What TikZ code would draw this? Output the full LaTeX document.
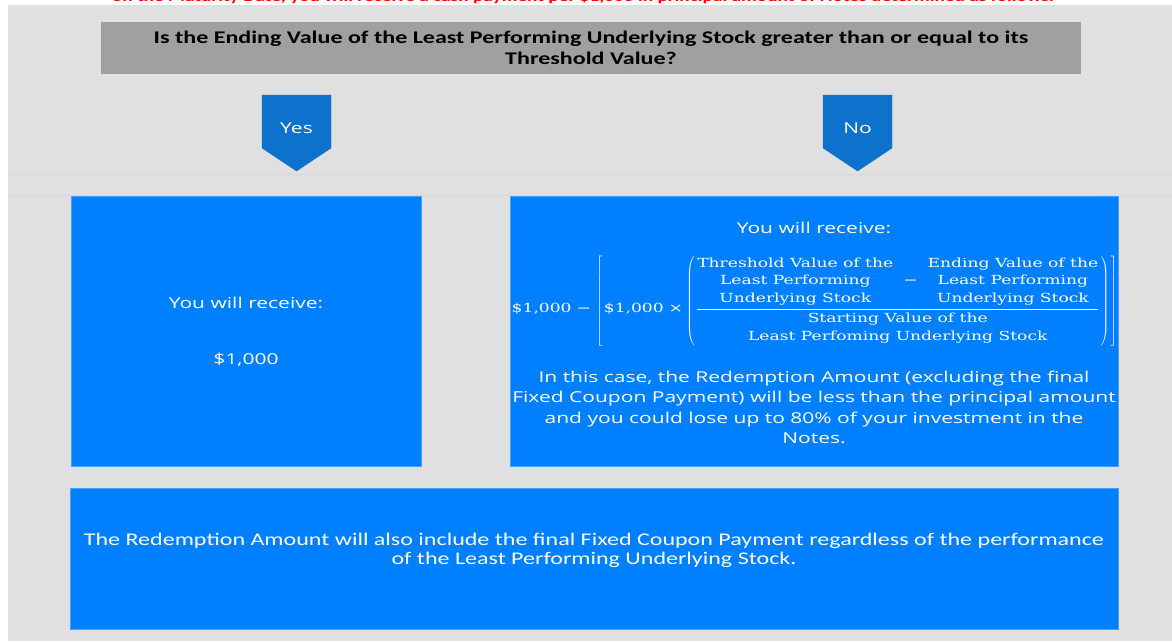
\documentclass[tikz,border=0pt]{standalone}
\usepackage{fontspec}
\newfontfamily\headfont[FakeStretch=1.35]{Carlito}
\newfontfamily\boxfont[FakeStretch=1.4]{Open Sans}
\newfontfamily\formfont[FakeStretch=1.37]{DejaVu Serif}

\definecolor{panelgray}{RGB}{224,224,224}
\definecolor{panelline}{RGB}{216,216,216}
\definecolor{questiongray}{RGB}{160,160,160}
\definecolor{arrowblue}{RGB}{12,114,204}
\definecolor{boxblue}{RGB}{0,128,255}
\definecolor{boxedge}{RGB}{70,160,255}
\definecolor{titlered}{RGB}{255,0,0}

\tikzset{
  bluebox/.style={fill=boxblue, draw=boxedge, line width=0.8pt},
  boxtext/.style={text=white, font=\boxfont\fontsize{15}{20.3}\selectfont, align=center},
  headtext/.style={font=\headfont\bfseries\fontsize{17.8}{21}\selectfont, align=center},
  pentarrow/.style={fill=arrowblue, draw=arrowblue}
}

\newcommand{\stocklines}[1]{\begin{tabular}{@{}c@{}}#1\\ Least Performing\\ Underlying Stock\end{tabular}}
\newcommand{\fminus}{\mbox{\char"2212}}
\newcommand{\ftimes}{\mbox{\char"00D7}}
% delimiter of fixed size, raised a little above the fraction bar
\newcommand{\tallopen}[1]{\raisebox{7.5pt}{$\delimitershortfall=0pt\delimiterfactor=1000\left#1\vrule height 46.5pt depth 40.5pt width 0pt\right.$}}
\newcommand{\tallclose}[1]{\raisebox{7.5pt}{$\delimitershortfall=0pt\delimiterfactor=1000\left.\vrule height 46.5pt depth 40.5pt width 0pt\right#1$}}

\begin{document}
\begin{tikzpicture}[x=1pt, y=-1pt]
\useasboundingbox (0,0) rectangle (1172,641);

% BACKGROUND
\fill[panelgray] (8,5) rectangle (1172,641);
\draw[panelline, line width=0.8pt] (8,174) -- (1172,174);
\draw[panelline, line width=0.8pt] (8,195) -- (1172,195);
\node[headtext, text=titlered, font=\headfont\bfseries\fontsize{14.3}{18}\selectfont, anchor=base] (title) at (583,1.5)
  {on the Maturity Date, you will receive a cash payment per \$1,000 in principal amount of Notes determined as follows:};

% QUESTION
\fill[questiongray] (101,22) rectangle (1081,74);
\node[headtext] (question) at (591,48)
  {Is the Ending Value of the Least Performing Underlying Stock greater than or equal to its\\ Threshold Value?};

% YES / NO ARROWS
\draw[pentarrow] (262,95) -- (331,95) -- (331,148) -- (296.5,171) -- (262,148) -- cycle;
\node[boxtext] (yes) at (296.5,128) {Yes};
\draw[pentarrow] (823,95) -- (892,95) -- (892,148) -- (857.5,171) -- (823,148) -- cycle;
\node[boxtext] (no) at (857.5,128) {No};

% LEFT BOX
\draw[bluebox] (71,196) rectangle (421,466);
\node[boxtext] (yesreceive) at (246,303) {You will receive:};
\node[boxtext] (yesamount) at (246,360) {\$1,000};

% RIGHT BOX
\draw[bluebox] (510,196) rectangle (1118,466);
\node[boxtext] (noreceive) at (814,228) {You will receive:};
\node[text=white, font=\formfont\fontsize{12.5}{17.5}\selectfont, anchor=base] (formula) at (814.5,312) {$\displaystyle
  \mbox{\$1,000}\hspace{5pt}\fminus\hspace{5pt}\tallopen{[}\mbox{\$1,000}\hspace{5pt}\ftimes\hspace{3pt}\tallopen{(}\frac{
    \stocklines{Threshold Value of the}
    \hspace{10pt}\fminus\hspace{10pt}
    \stocklines{Ending Value of the}}{
    \begin{tabular}{@{}c@{}}Starting Value of the\\ Least Perfoming Underlying Stock\end{tabular}}
  \tallclose{)}\tallclose{]}$};
\node[boxtext] (nonote) at (814,407.5)
  {In this case, the Redemption Amount (excluding the final\\
   Fixed Coupon Payment) will be less than the principal amount\\
   and you could lose up to 80\% of your investment in the\\
   Notes.};

% BOTTOM BOX
\draw[bluebox] (70,488) rectangle (1118,629);
\node[headtext, text=white, font=\headfont\fontsize{17.8}{19.5}\selectfont] (coupon) at (594,550.5)
  {The Redemption Amount will also include the final Fixed Coupon Payment regardless of the performance\\
   of the Least Performing Underlying Stock.};
\end{tikzpicture}
\end{document}
